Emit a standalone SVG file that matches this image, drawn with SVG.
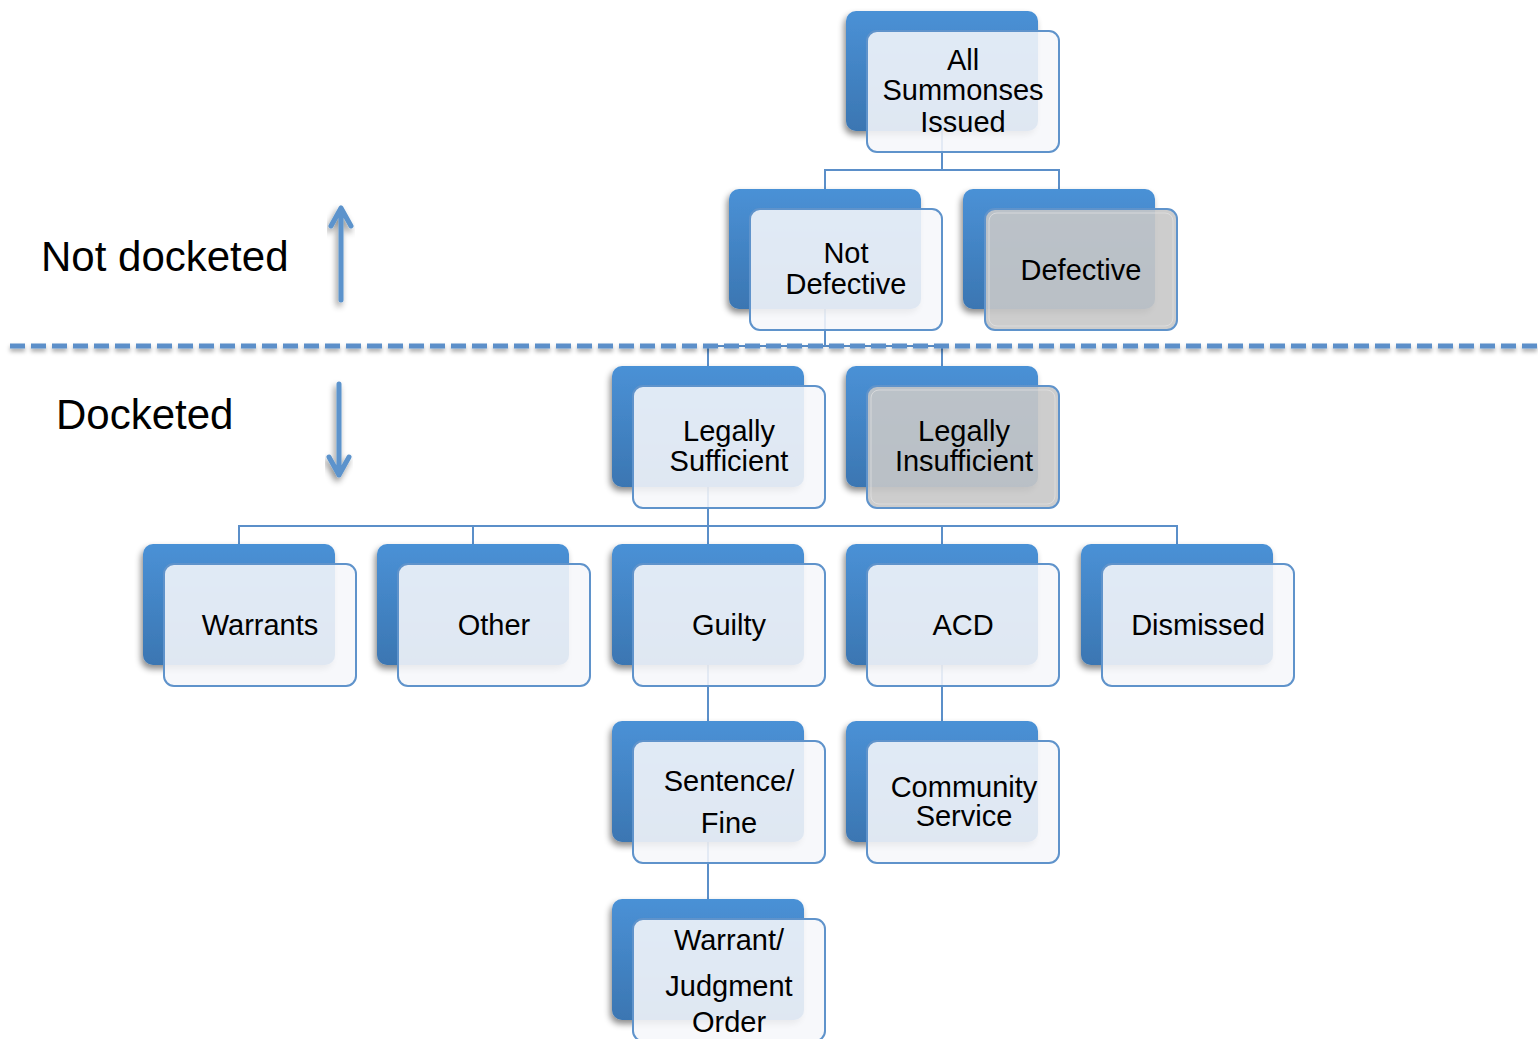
<svg xmlns="http://www.w3.org/2000/svg" width="1538" height="1039" viewBox="0 0 1538 1039">
<defs>
<linearGradient id="gBlue" x1="0" y1="0" x2="0" y2="1">
<stop offset="0" stop-color="#4A91D6"/>
<stop offset="1" stop-color="#3B76B2"/>
</linearGradient>
<filter id="sh" x="-20%" y="-20%" width="140%" height="150%">
<feDropShadow dx="-2" dy="4" stdDeviation="3" flood-color="#000" flood-opacity="0.45"/>
</filter>
<filter id="lsh" filterUnits="userSpaceOnUse" x="0" y="330" width="1538" height="35">
<feDropShadow dx="0" dy="3" stdDeviation="2" flood-color="#000" flood-opacity="0.35"/>
</filter>
</defs>
<style>
.back{fill:url(#gBlue);filter:url(#sh)}
.front{fill:#F6F7FB;fill-opacity:0.88;stroke:#5F93CB;stroke-width:2}
.gray{fill:#C8C8C8;fill-opacity:0.9;stroke:#5F93CB;stroke-width:2}
.inset{fill:none;stroke:#E2E2E2;stroke-width:1;stroke-opacity:0.7}
.conn{fill:none;stroke:#5B8FC9;stroke-width:2}
.t{font-family:"Liberation Sans",Arial,sans-serif;font-size:29px;text-anchor:middle;fill:#000}
.big{font-family:"Liberation Sans",Arial,sans-serif;font-size:42px;fill:#000}
.arr{fill:none;stroke:#5B93CC;stroke-width:5;stroke-linecap:round;stroke-linejoin:round;filter:url(#sh)}
</style>

<g id="connectors">
<path class="conn" d="M942 131 V170 M825 189 V170 H1059 V189"/>
<path class="conn" d="M825 309 V346 M708 366 V346 H942 V366"/>
<path class="conn" d="M708 487 V544 M239 544 V526 H1177 V544 M473 526 V544 M942 526 V544"/>
<path class="conn" d="M708 665 V721 M942 665 V721 M708 842 V899"/>
</g>

<g id="divider">
<path d="M10 346 H1538" fill="none" stroke="#5B8FC9" stroke-width="5" stroke-dasharray="15 6" filter="url(#lsh)"/>
</g>

<g id="labels">
<text class="big" x="41" y="271">Not docketed</text>
<text class="big" x="56" y="429">Docketed</text>
<path class="arr" d="M341 300 V208 M331 226 L341 208 L351 226"/>
<path class="arr" d="M339 384 V475 M329 457 L339 475 L349 457"/>
</g>

<g id="node-all">
<rect class="back" x="846" y="11" width="192" height="120" rx="10"/>
<rect class="front" x="867" y="31" width="192" height="121" rx="10"/>
<text class="t" x="963" y="70">All</text>
<text class="t" x="963" y="100">Summonses</text>
<text class="t" x="963" y="132">Issued</text>
</g>

<g id="node-notdefective">
<rect class="back" x="729" y="189" width="192" height="120" rx="10"/>
<rect class="front" x="750" y="209" width="192" height="121" rx="10"/>
<text class="t" x="846" y="263">Not</text>
<text class="t" x="846" y="294">Defective</text>
</g>

<g id="node-defective">
<rect class="back" x="963" y="189" width="192" height="120" rx="10"/>
<rect class="gray" x="985" y="209" width="192" height="121" rx="10"/>
<rect class="inset" x="989" y="213" width="184" height="113" rx="8"/>
<text class="t" x="1081" y="280">Defective</text>
</g>

<g id="node-legsuf">
<rect class="back" x="612" y="366" width="192" height="121" rx="10"/>
<rect class="front" x="633" y="386" width="192" height="122" rx="10"/>
<text class="t" x="729" y="441">Legally</text>
<text class="t" x="729" y="471">Sufficient</text>
</g>

<g id="node-leginsuf">
<rect class="back" x="846" y="366" width="192" height="121" rx="10"/>
<rect class="gray" x="867" y="386" width="192" height="122" rx="10"/>
<rect class="inset" x="871" y="390" width="184" height="114" rx="8"/>
<text class="t" x="964" y="441">Legally</text>
<text class="t" x="964" y="471">Insufficient</text>
</g>

<g id="node-warrants">
<rect class="back" x="143" y="544" width="192" height="121" rx="10"/>
<rect class="front" x="164" y="564" width="192" height="122" rx="10"/>
<text class="t" x="260" y="635">Warrants</text>
</g>

<g id="node-other">
<rect class="back" x="377" y="544" width="192" height="121" rx="10"/>
<rect class="front" x="398" y="564" width="192" height="122" rx="10"/>
<text class="t" x="494" y="635">Other</text>
</g>

<g id="node-guilty">
<rect class="back" x="612" y="544" width="192" height="121" rx="10"/>
<rect class="front" x="633" y="564" width="192" height="122" rx="10"/>
<text class="t" x="729" y="635">Guilty</text>
</g>

<g id="node-acd">
<rect class="back" x="846" y="544" width="192" height="121" rx="10"/>
<rect class="front" x="867" y="564" width="192" height="122" rx="10"/>
<text class="t" x="963" y="635">ACD</text>
</g>

<g id="node-dismissed">
<rect class="back" x="1081" y="544" width="192" height="121" rx="10"/>
<rect class="front" x="1102" y="564" width="192" height="122" rx="10"/>
<text class="t" x="1198" y="635">Dismissed</text>
</g>

<g id="node-sentence">
<rect class="back" x="612" y="721" width="192" height="121" rx="10"/>
<rect class="front" x="633" y="741" width="192" height="122" rx="10"/>
<text class="t" x="729" y="791">Sentence/</text>
<text class="t" x="729" y="833">Fine</text>
</g>

<g id="node-community">
<rect class="back" x="846" y="721" width="192" height="121" rx="10"/>
<rect class="front" x="867" y="741" width="192" height="122" rx="10"/>
<text class="t" x="964" y="797">Community</text>
<text class="t" x="964" y="826">Service</text>
</g>

<g id="node-warrant-judgment">
<rect class="back" x="612" y="899" width="192" height="121" rx="10"/>
<rect class="front" x="633" y="919" width="192" height="122" rx="10"/>
<text class="t" x="729" y="950">Warrant/</text>
<text class="t" x="729" y="996">Judgment</text>
<text class="t" x="729" y="1032">Order</text>
</g>
</svg>
